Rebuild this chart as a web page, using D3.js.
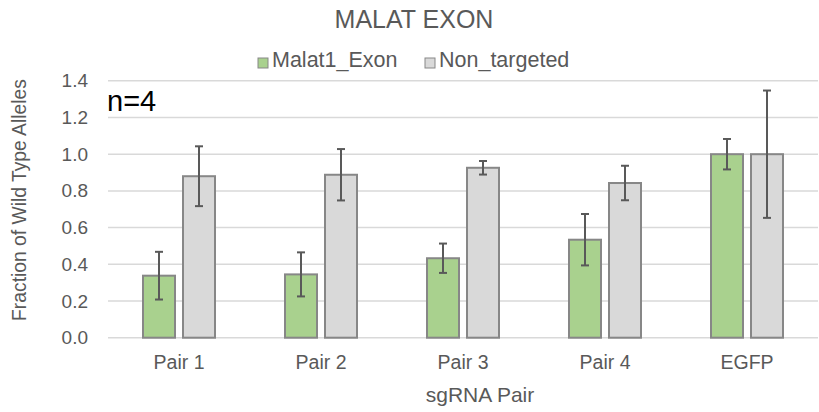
<!DOCTYPE html>
<html>
<head>
<meta charset="utf-8">
<script src="https://cdn.jsdelivr.net/npm/d3@7"></script>
<style>
  body { margin: 0; background: #fff; }
  text { font-family: "Liberation Sans", Arial, sans-serif; fill: #595959; }
</style>
</head>
<body>
<svg id="chart"></svg>
<script>
// data
let categories = ["Pair 1", "Pair 2", "Pair 3", "Pair 4", "EGFP"]
let seriesNames = ["Malat1_Exon", "Non_targeted"]
let malatVals = [0.338, 0.345, 0.433, 0.534, 1.0]
let malatErr = [0.13, 0.12, 0.08, 0.14, 0.083]
let nonVals = [0.88, 0.888, 0.926, 0.843, 1.0]
let nonErr = [0.163, 0.14, 0.037, 0.094, 0.347]
let yTicks = [0, 0.2, 0.4, 0.6, 0.8, 1.0, 1.2, 1.4]

let colors = ["#a9d18e", "#d9d9d9"]

let W = 819, H = 412
let svg = d3.select("#chart").attr("width", W).attr("height", H)

let plotL = 108, plotR = 818, plotT = 80.8, plotB = 337.7

let x = d3.scaleBand().domain(categories).range([plotL, plotR])
let xs = d3.scaleBand().domain(seriesNames).range([0, x.bandwidth()]).paddingInner(0.2).paddingOuter(0.875)
let y = d3.scaleLinear().domain([0, 1.4]).range([plotB, plotT])

// gridlines
svg.append("g").selectAll("line").data(yTicks).join("line")
  .attr("x1", plotL).attr("x2", plotR)
  .attr("y1", d => y(d)).attr("y2", d => y(d))
  .attr("stroke", "#d9d9d9").attr("stroke-width", 1.5)

// y axis (labels only)
let yAxis = svg.append("g").attr("transform", `translate(${plotL},0)`)
  .call(d3.axisLeft(y).tickValues(yTicks).tickFormat(d3.format(".1f")).tickSize(0).tickPadding(20))
yAxis.select(".domain").remove()
yAxis.selectAll("text").attr("font-size", 19).attr("fill", "#595959")
  .style("font-family", '"Liberation Sans", Arial, sans-serif')

// x axis (labels only)
let xAxis = svg.append("g").attr("transform", `translate(0,${plotB})`)
  .call(d3.axisBottom(x).tickSize(0).tickPadding(17))
xAxis.select(".domain").remove()
xAxis.selectAll("text").attr("font-size", 19.5).attr("fill", "#595959")
  .style("font-family", '"Liberation Sans", Arial, sans-serif')

let rows = categories.map((c, i) => ({
  cat: c,
  vals: [
    {s: seriesNames[0], v: malatVals[i], e: malatErr[i], k: 0},
    {s: seriesNames[1], v: nonVals[i], e: nonErr[i], k: 1}
  ]
}))

let groups = svg.append("g").selectAll("g").data(rows).join("g")
  .attr("transform", d => `translate(${x(d.cat)},0)`)

groups.selectAll("rect").data(d => d.vals).join("rect")
  .attr("x", d => xs(d.s))
  .attr("width", xs.bandwidth())
  .attr("y", d => y(d.v))
  .attr("height", d => y(0) - y(d.v))
  .attr("fill", d => colors[d.k])
  .attr("stroke", "#878787").attr("stroke-width", 2)

// error bars
let eb = groups.selectAll("g.err").data(d => d.vals).join("g").attr("class", "err")
  .attr("stroke", "#595959").attr("stroke-width", 2)
eb.append("line")
  .attr("x1", d => xs(d.s) + xs.bandwidth() / 2).attr("x2", d => xs(d.s) + xs.bandwidth() / 2)
  .attr("y1", d => y(d.v + d.e)).attr("y2", d => y(d.v - d.e))
eb.selectAll("line.cap").data(d => [d.v + d.e, d.v - d.e].map(t => ({t, cx: xs(d.s) + xs.bandwidth() / 2})))
  .join("line").attr("class", "cap")
  .attr("x1", d => d.cx - 4).attr("x2", d => d.cx + 4)
  .attr("y1", d => y(d.t)).attr("y2", d => y(d.t))

// title
svg.append("text").attr("x", 414).attr("y", 28).attr("text-anchor", "middle")
  .attr("font-size", 25).text("MALAT EXON")

// legend
let legX = [258, 425]
let leg = svg.append("g").selectAll("g").data(seriesNames).join("g")
  .attr("transform", (d, i) => `translate(${legX[i]},0)`)
leg.append("rect").attr("x", 0).attr("y", 58).attr("width", 10).attr("height", 10)
  .attr("fill", (d, i) => colors[i]).attr("stroke", "#878787").attr("stroke-width", 1)
leg.append("text").attr("x", 14).attr("y", 67).attr("font-size", 21.5).text(d => d)

// n=4 note
svg.append("text").attr("x", 107).attr("y", 111).attr("font-size", 29)
  .style("fill", "#000").text("n=4")

// axis titles
svg.append("text").attr("transform", "translate(26,200) rotate(-90)")
  .attr("text-anchor", "middle").attr("font-size", 19.3).text("Fraction of Wild Type Alleles")
svg.append("text").attr("x", 480).attr("y", 402).attr("text-anchor", "middle")
  .attr("font-size", 21).text("sgRNA Pair")
</script>
</body>
</html>
